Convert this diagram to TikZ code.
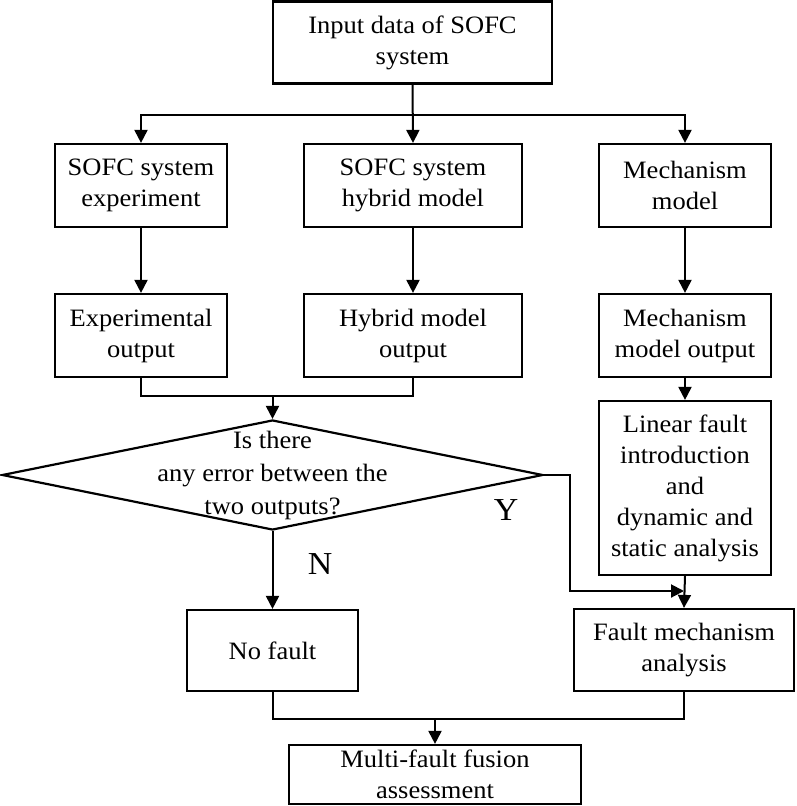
\documentclass[tikz,border=0pt]{standalone}
\usepackage{fontspec}
\setmainfont{Liberation Serif}[FakeStretch=1.06]
\usetikzlibrary{arrows.meta,shapes.geometric}
\begin{document}
\begin{tikzpicture}[x=1pt,y=-1pt,
  every node/.style={font=\fontsize{25}{31}\selectfont},
  box/.style={draw, line width=2.2pt, inner sep=0pt, align=center, minimum width=172pt, minimum height=83pt},
  decision/.style={draw, diamond, line width=2.2pt, inner sep=0pt, minimum width=541pt, minimum height=110pt},
  link/.style={line width=2pt},
  arr/.style={line width=2pt, -{Triangle[length=13pt,width=13pt]}},
  yn/.style={font=\fontsize{32}{38}\selectfont}
]
\useasboundingbox (0,0) rectangle (796,806);

\node[box, minimum width=279pt, minimum height=82pt] (input) at (412.5,42.5) {Input data of SOFC\\system};

\node[box] (exp) at (141,185.5) {SOFC system\\experiment};
\node[box, minimum width=218pt] (hyb) at (413,185.5) {SOFC system\\hybrid model};
\node[box] (mech) at (685,185.5) {Mechanism\\model};

\node[box] (expout) at (141,335.5) {Experimental\\output};
\node[box, minimum width=218pt] (hybout) at (413,335.5) {Hybrid model\\output};
\node[box] (mechout) at (685,335.5) {Mechanism\\model output};

\node[box, minimum height=174pt] (linear) at (685,488) {Linear fault\\introduction\\and\\dynamic and\\static analysis};

\node[decision] (dec) at (272.5,475) {\makebox[0pt]{\raisebox{-6pt}[0pt][0pt]{\renewcommand{\arraystretch}{1.07}\begin{tabular}{@{}c@{}}Is there\\any error between the\\two outputs?\end{tabular}}}};

\node[box, minimum width=171pt, minimum height=81pt] (nofault) at (272.5,650.5) {No fault};
\node[box, minimum width=220pt, minimum height=82pt] (fmech) at (684,650) {Fault mechanism\\analysis};

\node[box, minimum width=292pt, minimum height=59pt] (multi) at (435,774.5) {Multi-fault fusion\\assessment};

\node[yn] (ylab) at (506,510) {Y};
\node[yn] (nlab) at (320,564) {N};

% connectors
\coordinate (bus) at (412.5,115);
\draw[arr] (input.south) -- (hyb.north);
\draw[arr] (bus) -| (exp.north);
\draw[arr] (bus) -| (mech.north);

\draw[arr] (exp.south) -- (expout.north);
\draw[arr] (hyb.south) -- (hybout.north);
\draw[arr] (mech.south) -- (mechout.north);
\draw[arr] (mechout.south) -- (linear.north);

\coordinate (j1) at (272.5,396);
\draw[link] (expout.south) |- (j1) -| (hybout.south);
\draw[arr] (j1) -- (dec.north);

\draw[arr] (dec.south) -- (nofault.north);

\coordinate (yjoin) at (684,591);
\draw[arr] (dec.east) -- ++(26,0) |- (yjoin);
\draw[arr] (linear.south) -- (fmech.north);

\coordinate (j2) at (435,719);
\draw[link] (nofault.south) |- (j2) -| (fmech.south);
\draw[arr] (j2) -- (multi.north);
\end{tikzpicture}
\end{document}
